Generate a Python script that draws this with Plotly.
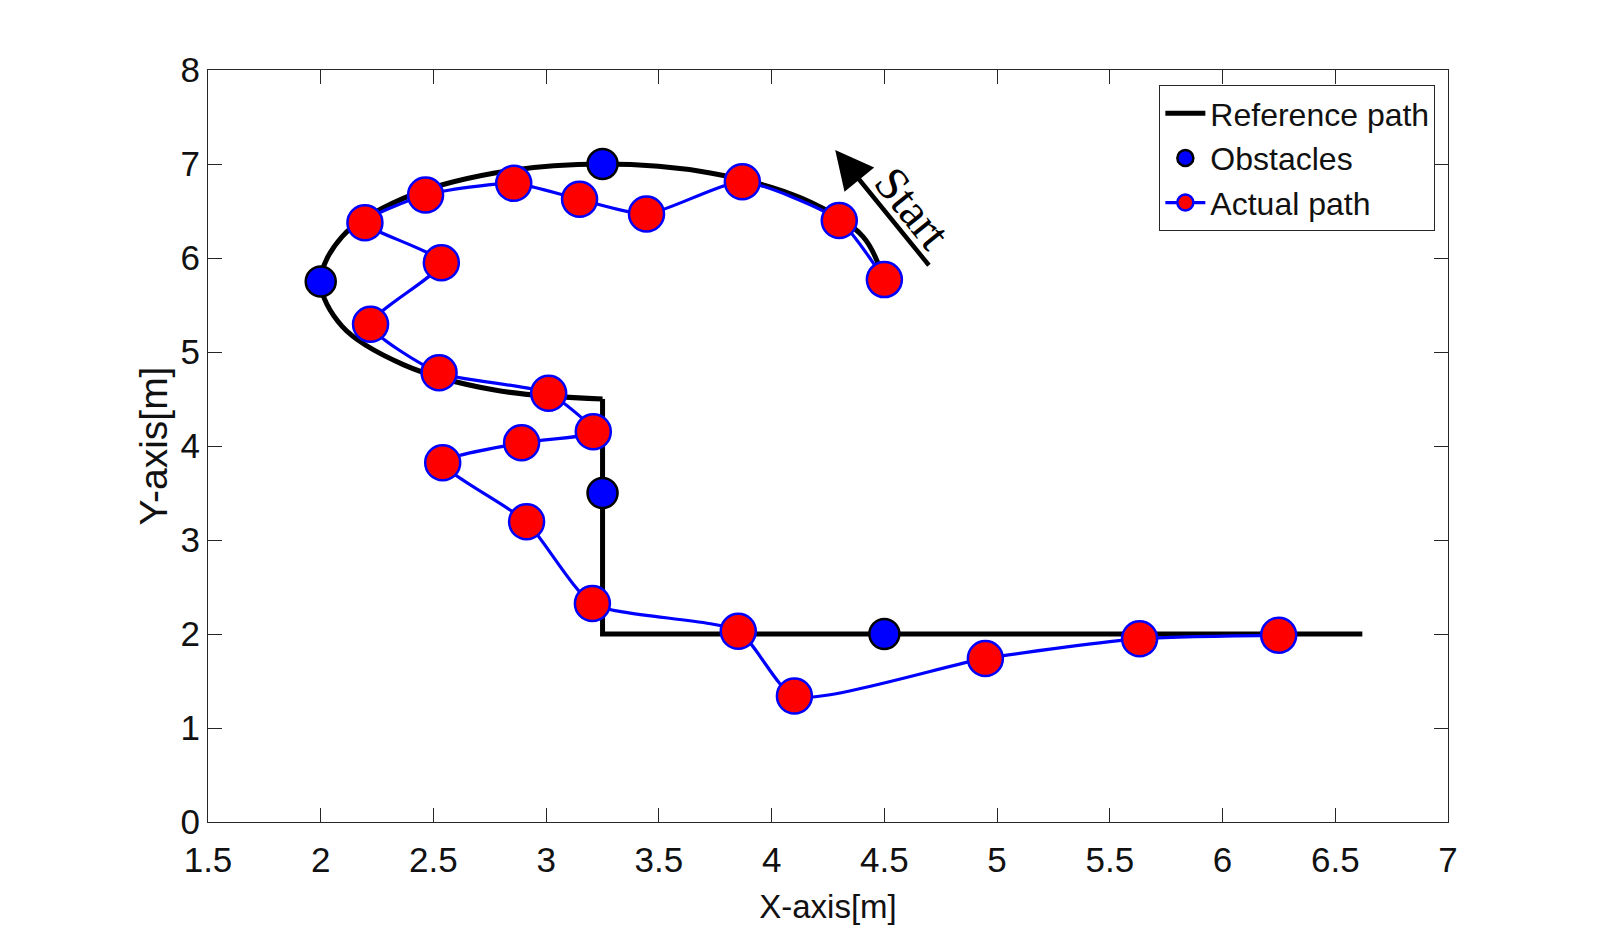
import plotly.graph_objects as go

# Reference path: arc part and straight part
ref_arc_x = [4.50, 4.405, 4.134, 3.728, 3.25, 2.772, 2.366, 2.095, 2.00, 2.095, 2.366, 2.772, 3.25]
ref_arc_y = [5.75, 6.228, 6.634, 6.905, 7.00, 6.905, 6.634, 6.228, 5.75, 5.272, 4.866, 4.595, 4.50]
ref_line_x = [3.25, 3.25, 3.25, 6.62]
ref_line_y = [4.50, 4.50, 2.00, 2.00]

# Obstacles
obs_x = [3.25, 2.00, 3.25, 4.50]
obs_y = [7.00, 5.75, 3.50, 2.00]

# Actual path
act_x = [4.50, 4.30, 3.87, 3.445, 3.148, 2.856, 2.465, 2.196, 2.535, 2.221, 2.525, 3.011,
         3.209, 2.891, 2.541, 2.913, 3.205, 3.852, 4.101, 4.948, 5.632, 6.249]
act_y = [5.77, 6.40, 6.81, 6.468, 6.624, 6.794, 6.67, 6.375, 5.95, 5.294, 4.779, 4.56,
         4.151, 4.034, 3.821, 3.193, 2.324, 2.03, 1.34, 1.74, 1.95, 1.987]

# Start arrow (tip, tail) and label position
arrow_tip = (4.282, 7.149)
arrow_tail = (4.703, 5.907)
start_label = (4.625, 6.53)

FONT = "Liberation Sans Narrow, Arial Narrow, Liberation Sans, Arial, sans-serif"
AX = "#262626"

fig = go.Figure()
fig.add_trace(go.Scatter(x=ref_arc_x, y=ref_arc_y, mode="lines", name="Reference path",
                         line=dict(color="black", width=5, shape="spline", smoothing=1),
                         legendgroup="ref"))
fig.add_trace(go.Scatter(x=ref_line_x, y=ref_line_y, mode="lines", name="Reference path",
                         line=dict(color="black", width=5), legendgroup="ref", showlegend=False))
fig.add_trace(go.Scatter(x=obs_x, y=obs_y, mode="markers", name="Obstacles",
                         marker=dict(color="blue", size=30, line=dict(color="black", width=2.5))))
fig.add_trace(go.Scatter(x=act_x, y=act_y, mode="lines+markers", name="Actual path",
                         line=dict(color="blue", width=3.2, shape="spline", smoothing=0.6),
                         marker=dict(color="red", size=35, line=dict(color="blue", width=2.5))))

fig.add_annotation(x=arrow_tip[0], y=arrow_tip[1], ax=arrow_tail[0], ay=arrow_tail[1],
                   xref="x", yref="y", axref="x", ayref="y", text="", showarrow=True,
                   arrowhead=2, arrowsize=1.7, arrowwidth=4.5, arrowcolor="black")
fig.add_annotation(x=start_label[0], y=start_label[1], xref="x", yref="y", text="Start",
                   showarrow=False, textangle=51,
                   font=dict(family="Liberation Serif, Times New Roman, serif", size=47, color="black"))

axis_common = dict(showline=True, mirror="ticks", linecolor=AX, linewidth=1, ticks="inside",
                   ticklen=14, tickcolor=AX, tickwidth=1, showgrid=False, zeroline=False,
                   tickfont=dict(family=FONT, size=35, color="#111"))
fig.update_xaxes(range=[1.5, 7], tickvals=[1.5, 2, 2.5, 3, 3.5, 4, 4.5, 5, 5.5, 6, 6.5, 7],
                 ticktext=["1.5", "2", "2.5", "3", "3.5", "4", "4.5", "5", "5.5", "6", "6.5", "7"],
                 ticklabelstandoff=7,
                 title=dict(text="X-axis[m]", font=dict(family=FONT, size=33, color="#111"), standoff=16),
                 **axis_common)
fig.update_yaxes(range=[0, 8], tickvals=[0, 1, 2, 3, 4, 5, 6, 7, 8],
                 ticktext=["0", "1", "2", "3", "4", "5", "6", "7", "8"],
                 title=dict(text="Y-axis[m]", font=dict(family=FONT, size=39, color="#111"), standoff=0),
                 **axis_common)

fig.update_layout(width=1600, height=929, margin=dict(l=208, r=152, t=70, b=107),
                  plot_bgcolor="white", paper_bgcolor="white",
                  legend=dict(x=0.9898, y=0.98, xanchor="right", yanchor="top",
                              bgcolor="white", bordercolor=AX, borderwidth=1,
                              font=dict(family=FONT, size=32, color="#111"),
                              tracegroupgap=0, itemwidth=40))

fig.write_html("out.html")
